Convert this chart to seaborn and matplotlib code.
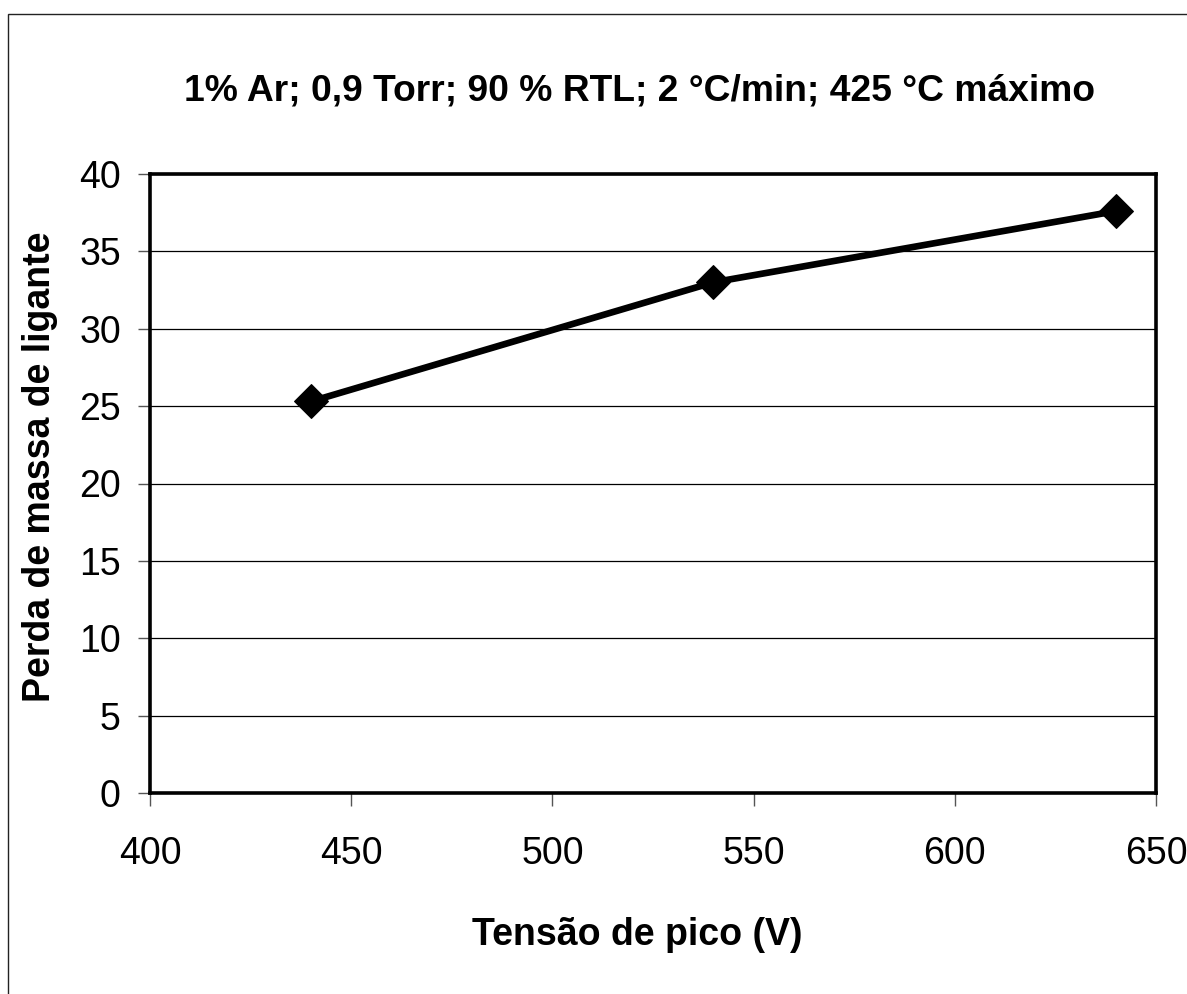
import matplotlib
matplotlib.use('Agg')
import matplotlib.pyplot as plt
import seaborn as sns
import pandas as pd
from matplotlib.patches import Rectangle

# data
tensao_pico = [440, 540, 640]
perda_massa = [25.3, 33.0, 37.6]
x_ticks = [400, 450, 500, 550, 600, 650]
y_ticks = [0, 5, 10, 15, 20, 25, 30, 35, 40]

TITLE = '1% Ar; 0,9 Torr; 90 % RTL; 2 °C/min; 425 °C máximo'
XLABEL = 'Tensão de pico (V)'
YLABEL = 'Perda de massa de ligante'

sns.set_style('white')
plt.rcParams['font.family'] = ['Liberation Sans', 'DejaVu Sans']
plt.rcParams['text.color'] = 'black'

df = pd.DataFrame({'Tensao': tensao_pico, 'Perda': perda_massa})

fig = plt.figure(figsize=(11.87, 9.94), dpi=100)
ax = fig.add_axes([150 / 1187, 1 - 793 / 994, 1006 / 1187, 619 / 994])

sns.lineplot(data=df, x='Tensao', y='Perda', ax=ax, color='black',
             linewidth=4.8, marker='D', markersize=17,
             markerfacecolor='black', markeredgecolor='black', zorder=5)

ax.set_xlim(400, 650)
ax.set_ylim(0, 40)
ax.set_xticks(x_ticks)
ax.set_yticks(y_ticks)
ax.yaxis.grid(True, color='black', linewidth=0.9)
ax.xaxis.grid(False)
ax.set_axisbelow(True)

for sp in ax.spines.values():
    sp.set_visible(True)
    sp.set_color('black')
    sp.set_linewidth(2.6)

ax.tick_params(axis='both', direction='out', length=9, width=1,
               color='#555555', labelsize=27, labelcolor='black',
               bottom=True, left=True)
ax.tick_params(axis='y', pad=12)
ax.tick_params(axis='x', pad=22)
ax.set_xlabel('')
ax.set_ylabel('')

fig.text(640 / 1187, 1 - 101 / 994, TITLE, ha='center', va='baseline',
         fontsize=26.8, fontweight='bold', color='black')
fig.text(637 / 1187, 1 - 945 / 994, XLABEL, ha='center', va='baseline',
         fontsize=27, fontweight='bold', color='black')
fig.text(40 / 1187, 1 - 467 / 994, YLABEL, ha='center', va='center',
         rotation=90, fontsize=27, fontweight='bold', color='black')

# outer chart-area border (cut off on right and bottom)
fig.patches.append(Rectangle((8 / 1187, -0.1), 2.0, 1 - 14 / 994 + 0.1,
                             transform=fig.transFigure, fill=False,
                             edgecolor='#222222', linewidth=1.0))

fig.savefig('out.png', dpi=100)
